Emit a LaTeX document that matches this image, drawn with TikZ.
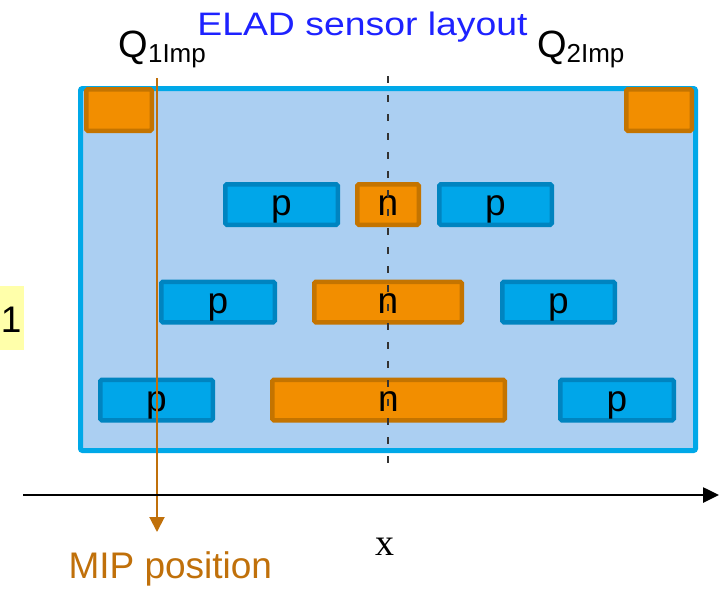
\documentclass[tikz,border=0pt]{standalone}
\usepackage{fontspec}
\setmainfont{Liberation Sans}
\newfontfamily\serifx{Liberation Serif}
\usetikzlibrary{arrows.meta}
\definecolor{bigfill}{RGB}{171,207,242}
\definecolor{bigline}{RGB}{0,168,232}
\definecolor{pfill}{RGB}{0,166,233}
\definecolor{pline}{RGB}{0,132,192}
\definecolor{nfill}{RGB}{242,142,0}
\definecolor{nline}{RGB}{196,116,0}
\definecolor{mipcol}{RGB}{192,112,10}
\definecolor{titleblue}{RGB}{30,34,255}
\definecolor{yellowbg}{RGB}{255,255,170}
\tikzset{
  stripbox/.style={rectangle, line width=4.5pt, rounded corners=1.5pt, inner sep=0pt,
    minimum height=40.5pt, text height=22pt, text depth=0pt,
    font=\fontsize{37}{40}\selectfont},
  pbox/.style={stripbox, fill=pfill, draw=pline},
  nbox/.style={stripbox, fill=nfill, draw=nline},
  lbl/.style={inner sep=0pt, outer sep=0pt},
}
\begin{document}
\begin{tikzpicture}[x=1pt,y=-1pt]
\useasboundingbox (0,0) rectangle (722,592);
% sensor body
\node (body) [rectangle, fill=bigfill, draw=bigline, line width=5pt, rounded corners=2pt,
  minimum width=615pt, minimum height=362pt, inner sep=0pt] at (388,269.5) {};
% corner implants
\node (q1) [nbox, minimum width=65.5pt, minimum height=41.5pt] at (119,110) {};
\node (q2) [nbox, minimum width=65.5pt, minimum height=41.5pt] at (659,110) {};
% row 1
\node (p11) [pbox, minimum width=112.5pt] at (281.5,204.5) {p};
\node (n1)  [nbox, minimum width=61.5pt]  at (388,204.5) {n};
\node (p12) [pbox, minimum width=112.5pt] at (495.5,204.5) {p};
% row 2
\node (p21) [pbox, minimum width=113.5pt] at (218,302) {p};
\node (n2)  [nbox, minimum width=147.5pt] at (388,302) {n};
\node (p22) [pbox, minimum width=112.5pt] at (558.5,302) {p};
% row 3
\node (p31) [pbox, minimum width=112.5pt] at (156.5,400) {p};
\node (n3)  [nbox, minimum width=232.5pt] at (388.5,400) {n};
\node (p32) [pbox, minimum width=113.5pt] at (617,400) {p};
% dashed symmetry line
\coordinate (dT) at (388,76);
\coordinate (dB) at (388,469);
\draw[line width=1.4pt, draw=black!80, dash pattern=on 7pt off 12pt] (dT) -- (dB);
% MIP track
\coordinate (mipT) at (157,78);
\coordinate (mipB) at (157,532);
\draw[line width=2pt, draw=mipcol, -{Triangle[length=15pt,width=15pt]}] (mipT) -- (mipB);
% x axis
\coordinate (axL) at (23,495);
\coordinate (axR) at (719,495);
\draw[line width=2.6pt, -{Triangle[length=16pt,width=15pt]}] (axL) -- (axR);
% labels
\node (title) [lbl, anchor=base, text=titleblue, font=\fontsize{32.5}{36}\selectfont]
  at (362.5,35) {\scalebox{1.15}[1]{ELAD sensor layout}};
\node (lq1) [lbl, anchor=base west, font=\fontsize{38}{40}\selectfont]
  at (118.5,57) {Q\raisebox{-5pt}{\fontsize{26}{28}\selectfont 1Imp}};
\node (lq2) [lbl, anchor=base west, font=\fontsize{38}{40}\selectfont]
  at (537,57) {Q\raisebox{-5pt}{\fontsize{26}{28}\selectfont 2Imp}};
\node (mip) [lbl, anchor=base west, text=mipcol, font=\fontsize{37}{40}\selectfont]
  at (68.5,578) {MIP position};
\node (xl) [lbl, anchor=base, font=\serifx\fontsize{38}{40}\selectfont] at (385,555) {x};
\node (ybox) [rectangle, fill=yellowbg, inner sep=0pt, minimum width=24pt, minimum height=64pt] at (12,318) {};
\node (one) [lbl, anchor=base west, font=\fontsize{37}{40}\selectfont] at (1,332) {1};
\end{tikzpicture}
\end{document}
